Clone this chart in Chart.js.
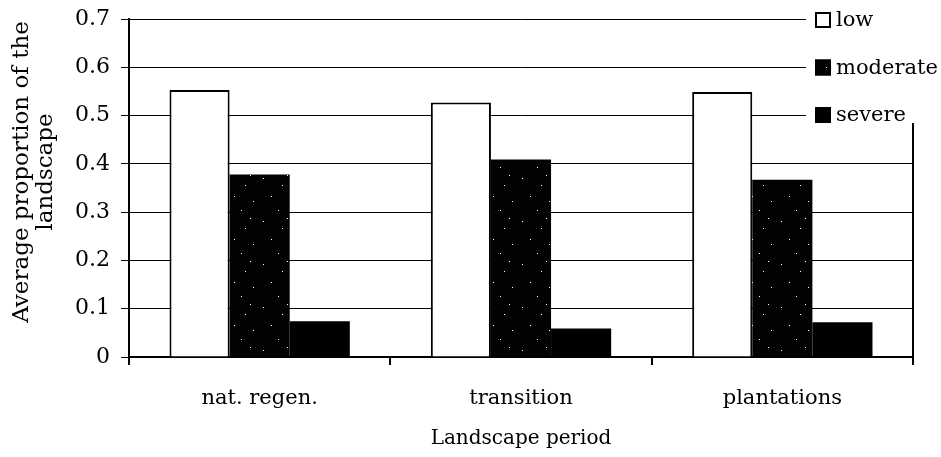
<!DOCTYPE html>
<html>
<head>
<meta charset="utf-8">
<script src="https://cdn.jsdelivr.net/npm/chart.js@4/dist/chart.umd.min.js"></script>
<style>
  html, body { margin: 0; padding: 0; background: #fff; }
  #wrap { width: 941px; height: 457px; }
</style>
</head>
<body>
<div id="wrap"><canvas id="c" width="941" height="457"></canvas></div>
<script>
// Burn severity classes per landscape period
const periods = ['nat. regen.', 'transition', 'plantations'];
const severityLevels = ['low', 'moderate', 'severe'];
const lowValues = [0.553, 0.527, 0.549];
const moderateValues = [0.378, 0.409, 0.367];
const severeValues = [0.074, 0.059, 0.072];
const yTickValues = [0, 0.1, 0.2, 0.3, 0.4, 0.5, 0.6, 0.7];
const yTitleLines = ['Average proportion of the', 'landscape'];
const xTitle = 'Landscape period';

const FONT = '"DejaVu Serif", "Liberation Serif", serif';

// Dark, sparsely speckled fill for the "moderate" class
function stipple() {
  const c = document.createElement('canvas');
  c.width = 37; c.height = 43;
  const g = c.getContext('2d');
  g.fillStyle = '#030303';
  g.fillRect(0, 0, c.width, c.height);
  g.fillStyle = '#ffffff';
  const dots = [[4, 6], [23, 13], [31, 29], [12, 24], [19, 38], [28, 3]];
  dots.forEach(([x, y]) => g.fillRect(x, y, 1, 1));
  return g.createPattern(c, 'repeat');
}
const moderateFill = stipple();

const fills = ['#ffffff', moderateFill, '#000000'];
const series = [lowValues, moderateValues, severeValues];

// Legend box laid over the upper-right corner of the plot
const cornerLegend = {
  id: 'cornerLegend',
  afterDraw(chart) {
    const ctx = chart.ctx;
    const area = chart.chartArea;
    ctx.save();
    // right-hand frame of the plot area
    ctx.strokeStyle = '#000';
    ctx.lineWidth = 2;
    ctx.beginPath();
    ctx.moveTo(area.right, area.top);
    ctx.lineTo(area.right, area.bottom + 4);
    ctx.stroke();

    ctx.fillStyle = '#fff';
    ctx.fillRect(806, 0, 135, 123);

    ctx.font = '21px ' + FONT;
    ctx.textBaseline = 'middle';
    chart.data.datasets.forEach((ds, i) => {
      const cy = 20 + i * 47.5;
      const bx = 815, size = 16;
      ctx.fillStyle = ds.backgroundColor;
      ctx.fillRect(bx, cy - size / 2, size, size);
      ctx.strokeStyle = '#000';
      ctx.lineWidth = 2;
      ctx.strokeRect(bx + 1, cy - size / 2 + 1, size - 2, size - 2);
      ctx.fillStyle = '#000';
      ctx.fillText(ds.label, 836, cy + 1);
    });
    ctx.restore();
  }
};

// Two-line rotated title for the value axis
const valueAxisTitle = {
  id: 'valueAxisTitle',
  afterDraw(chart) {
    const ctx = chart.ctx;
    ctx.save();
    ctx.font = '23px ' + FONT;
    ctx.fillStyle = '#000';
    ctx.textAlign = 'center';
    ctx.textBaseline = 'middle';
    yTitleLines.forEach((line, i) => {
      ctx.save();
      ctx.translate(22 + i * 24, 172);
      ctx.rotate(-Math.PI / 2);
      ctx.fillText(line, 0, 0);
      ctx.restore();
    });
    ctx.restore();
  }
};

new Chart(document.getElementById('c'), {
  type: 'bar',
  data: {
    labels: periods,
    datasets: severityLevels.map((name, i) => ({
      label: name,
      data: series[i],
      backgroundColor: fills[i],
      borderColor: '#000',
      borderWidth: i === 0 ? 2 : 0,
      borderSkipped: 'start'
    }))
  },
  options: {
    responsive: false,
    animation: false,
    devicePixelRatio: 1,
    layout: { padding: { top: 15, right: 28, bottom: 0, left: 0 } },
    datasets: { bar: { categoryPercentage: 0.69, barPercentage: 1.0 } },
    plugins: {
      legend: { display: false },
      tooltip: { enabled: false }
    },
    scales: {
      x: {
        offset: true,
        grid: { display: true, drawOnChartArea: false, drawTicks: true, tickLength: 8, color: '#000', lineWidth: 2, offset: true },
        border: { display: true, color: '#000', width: 2 },
        ticks: { color: '#000', font: { family: FONT, size: 21 }, padding: 21 },
        title: { display: true, text: xTitle, color: '#000', font: { family: FONT, size: 20 }, padding: { top: 0, bottom: 6 } },
        afterFit(s) { s.height = 100; }
      },
      y: {
        min: 0,
        max: 0.7,
        afterBuildTicks(s) { s.ticks = yTickValues.map(v => ({ value: v })); },
        grid: { color: '#000', lineWidth: 1, drawTicks: true, tickLength: 8 },
        border: { display: true, color: '#000', width: 2 },
        ticks: {
          color: '#000',
          font: { family: FONT, size: 22, lineHeight: 0.73 },
          padding: 11,
          callback: v => String(Math.round(v * 10) / 10)
        },
        afterFit(s) { s.width = 129; }
      }
    }
  },
  plugins: [cornerLegend, valueAxisTitle]
});
</script>
</body>
</html>
